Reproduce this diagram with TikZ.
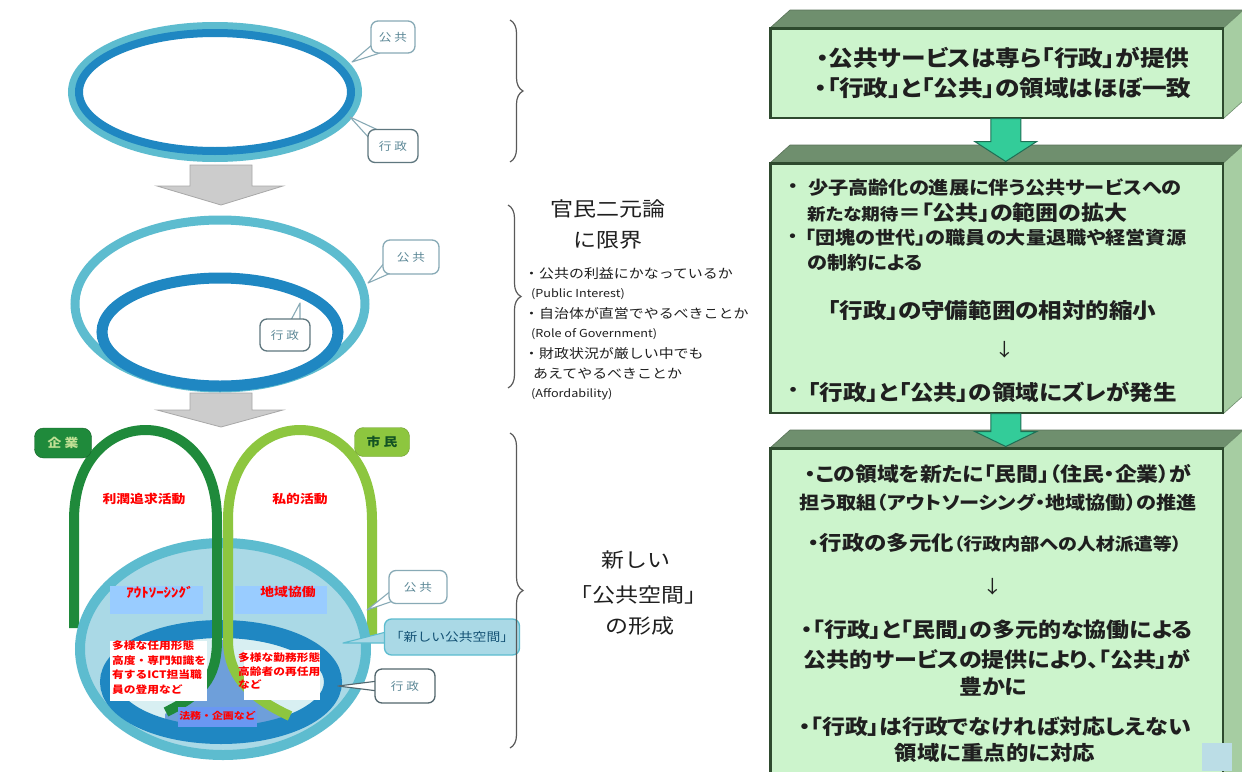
\documentclass[tikz,border=0pt]{standalone}
\usepackage{fontspec}
\newfontfamily\jpf[FakeStretch=1.15]{Noto Sans CJK JP}
\newfontfamily\jpp[FakeStretch=1.12, RawFeature=+palt]{Noto Sans CJK JP}
\usetikzlibrary{decorations.pathreplacing,calc}
\definecolor{ringL}{HTML}{5DBCCF}
\definecolor{ringD}{HTML}{1F87C2}
\definecolor{dgreen}{HTML}{1F8A3B}
\definecolor{lgreen}{HTML}{8DC63F}
\definecolor{fillB}{HTML}{AAD9E6}
\definecolor{fillIn}{HTML}{D8EFF2}
\definecolor{triB}{HTML}{6E9FDA}
\definecolor{lblBlue}{HTML}{99CCFF}
\definecolor{hoBlue}{HTML}{6A97F2}
\definecolor{callBorder}{HTML}{88AAB6}
\definecolor{callText}{HTML}{5B8796}
\definecolor{boxFront}{HTML}{CCF4CC}
\definecolor{boxTop}{HTML}{6F8F6E}
\definecolor{boxSide}{HTML}{A6CDA2}
\definecolor{boxLine}{HTML}{2E4A2E}
\definecolor{gArrow}{HTML}{33CC99}
\definecolor{gArrowLine}{HTML}{1F6F55}
\definecolor{grayFill}{HTML}{CCCCCC}
\definecolor{grayLine}{HTML}{A8A8A8}
\definecolor{txtDark}{HTML}{1F1F1F}
\definecolor{sqBlue}{HTML}{BBDDE6}
\newcommand\fsz[2]{\fontsize{#1}{#2}\selectfont}
\begin{document}
\begin{tikzpicture}[x=1pt,y=-1pt,
  callout/.style={draw=callBorder, fill=white, rounded corners=7pt, line width=1.3pt,
    font=\jpf\fsz{11}{12}, text=callText, inner sep=0pt},
  tail/.style={draw=callBorder, fill=white, line width=1.1pt, line join=round},
  front/.style={draw=boxLine, fill=boxFront, line width=1.5pt, inner sep=0pt, anchor=north west},
  topface/.style={fill=boxTop, draw=boxTop!80!black, line width=0.6pt},
  sideface/.style={fill=boxSide, draw=boxTop, line width=0.6pt},
  btxt/.style={font=\jpp\bfseries\fsz{20.5}{21}, text=black!88, inner sep=0pt},
  redtxt/.style={font=\jpf\bfseries\fsz{12}{14}, text=red, inner sep=0pt},
  midtxt/.style={font=\jpf\fsz{13}{15}, text=txtDark, inner sep=0pt, anchor=west},
  lattxt/.style={font=\jpf\fsz{11}{13}, text=txtDark, inner sep=0pt, anchor=west},
  bigtxt/.style={font=\jpf\fsz{20}{22}, text=txtDark, inner sep=0pt},
  bracestyle/.style={decorate, decoration={brace, amplitude=13pt}, line width=1.2pt, draw=black!65},
  grayarrow/.style={fill=grayFill, draw=grayLine, line width=0.8pt},
  greenarrow/.style={fill=gArrow, draw=gArrowLine, line width=1pt}
]
\fill[white] (0,0) rectangle (1242,771);
\useasboundingbox (0,0) rectangle (1242,771);

% ================= top ellipse =================
\draw[line width=14, color=ringL] (215,92) ellipse [x radius=140, y radius=63];
\draw[line width=8, color=ringD] (215,92) ellipse [x radius=136, y radius=59];
\coordinate (t1) at (352,62);
\coordinate (t2) at (350,117);
\fill[tail] (373,44) -- (t1) -- (380,53);
\node[callout, minimum width=44, minimum height=32] (k1) at (393,37) {公 共};
\fill[tail] (370,139) -- (t2) -- (378,130);
\node[callout, minimum width=50, minimum height=33, draw=callBorder!70!black] (g1) at (393,146) {行 政};

\draw[grayarrow] (190,165) -- (252,165) -- (252,186) -- (283,186) -- (221,205) -- (157,186) -- (190,186) -- cycle;

% ================= middle ellipses =================
\draw[line width=9, color=ringL] (220,304) ellipse [x radius=145, y radius=84];
\draw[line width=11, color=ringD] (220,332) ellipse [x radius=118, y radius=54];
\coordinate (t3) at (368,283);
\coordinate (t4) at (300,303);
\fill[tail] (385,262) -- (t3) -- (393,272);
\node[callout, minimum width=56, minimum height=34] (k2) at (411,257) {公 共};
\fill[tail] (291,320) -- (t4) -- (300,320);
\node[callout, minimum width=50, minimum height=32, draw=callBorder!70!black] (g2) at (285,335) {行 政};

\draw[grayarrow] (190,393) -- (252,393) -- (252,410) -- (283,410) -- (221,427) -- (157,410) -- (190,410) -- cycle;

% ================= bottom diagram =================
\draw[dgreen, line width=10] (74,628) -- (74,520) .. controls (74,400) and (217,400) .. (217,520) -- (217,640);
\draw[lgreen, line width=10] (228,640) -- (228,520) .. controls (228,400) and (372,400) .. (372,520) -- (372,640);
\fill[fillB] (223,649) ellipse [x radius=146, y radius=109];
\draw[line width=10, color=ringL] (223,649) ellipse [x radius=143, y radius=106];
\fill[fillIn] (221,682) ellipse [x radius=112, y radius=53];
\fill[triB] (217,640) .. controls (217,680) and (200,695) .. (165,714) -- (165,730) -- (292,730) -- (292,718) .. controls (256,700) and (228,680) .. (228,640) -- cycle;
\draw[line width=18, color=ringD] (221,682) ellipse [x radius=112, y radius=53];
\draw[dgreen, line width=10] (217,530) -- (217,640) .. controls (217,680) and (200,695) .. (166,712);
\draw[lgreen, line width=10] (228,530) -- (228,640) .. controls (228,680) and (256,700) .. (290,716);

\node[fill=dgreen, draw=dgreen!70!black, rounded corners=9pt, minimum width=57, minimum height=30, inner sep=0pt,
  font=\jpf\bfseries\fsz{12}{13}, text=lgreen!55!white] (kigyo) at (63,443) {企 業};
\node[fill=lgreen, draw=lgreen!80!black, rounded corners=9pt, minimum width=55, minimum height=29, inner sep=0pt,
  font=\jpf\bfseries\fsz{12}{13}, text=dgreen!60!black] (shimin) at (382,442) {市 民};

\node[fill=white, minimum width=112, minimum height=32, inner sep=0pt] (rj) at (144,499) {};
\node[redtxt] (rjt) at (144,499) {利潤追求活動};
\node[fill=white, minimum width=112, minimum height=32, inner sep=0pt] (sk) at (296,499) {};
\node[redtxt] (skt) at (300,499) {私的活動};
\node[fill=lblBlue, minimum width=93, minimum height=28, inner sep=0pt] (ao) at (156,600) {};
\node[redtxt, font=\jpf\bfseries\fsz{13}{14}] (aot) at (160,592) {ｱｳﾄｿｰｼﾝｸﾞ};
\node[fill=lblBlue, minimum width=92, minimum height=28, inner sep=0pt] (ck) at (281,600) {};
\node[redtxt] (ckt) at (288,592) {地域協働};
\node[fill=white, minimum width=97, minimum height=60, inner sep=0pt] (wl) at (158.5,671) {};
\node[redtxt, font=\jpf\bfseries\fsz{10.2}{14.5}, align=left, anchor=north west] (wlt) at (112,641)
  {多様な任用形態\\高度・専門知識を\\有するICT担当職\\員の登用など};
\node[fill=white, minimum width=76, minimum height=50, inner sep=0pt] (wr) at (282,675) {};
\node[redtxt, font=\jpf\bfseries\fsz{10.2}{13.5}, align=left, anchor=north west] (wrt) at (238,653)
  {多様な勤務形態\\高齢者の再任用\\など};
\node[fill=hoBlue, minimum width=79, minimum height=20, inner sep=0pt] (hm) at (217.5,717) {};
\node[redtxt, font=\jpf\bfseries\fsz{9.5}{11}] (hmt) at (217.5,716) {法務・企画など};

\coordinate (t5) at (367,610);
\coordinate (t6) at (343,643);
\coordinate (t7) at (338,686);
\fill[tail] (392,590) -- (t5) -- (396,600);
\node[callout, minimum width=58, minimum height=33] (k3) at (418,587) {公 共};
\fill[tail, draw=ringL, fill=fillB] (390,631) -- (t6) -- (390,643);
\node[callout, draw=ringL, fill=fillB, text=ringD!60!black, minimum width=135, minimum height=36,
  font=\jpf\fsz{12}{13}] (ns) at (452,637) {「新しい公共空間」};
\fill[tail, draw=callBorder!60!black] (378,681) -- (t7) -- (378,691);
\node[callout, draw=callBorder!60!black, minimum width=60, minimum height=34] (g3) at (405,686) {行 政};

% ================= braces & middle texts =================
\draw[bracestyle] (510,20) -- (510,162);
\draw[bracestyle] (508,205) -- (508,388);
\draw[bracestyle] (510,433) -- (510,748);

\node[bigtxt] (m1) at (608,209) {官民二元論};
\node[bigtxt] (m2) at (608,240) {に限界};
\node[midtxt] (s1) at (524,274) {・公共の利益にかなっているか};
\node[lattxt] (s2) at (531,294) {(Public Interest)};
\node[midtxt] (s3) at (524,314) {・自治体が直営でやるべきことか};
\node[lattxt] (s4) at (531,334) {(Role of Government)};
\node[midtxt] (s5) at (524,354) {・財政状況が厳しい中でも};
\node[midtxt] (s6) at (533,374) {あえてやるべきことか};
\node[lattxt] (s7) at (531,394) {(Affordability)};

\node[bigtxt] (n1) at (636,560) {新しい};
\node[bigtxt] (n2) at (638,595) {「公共空間」};
\node[bigtxt] (n3) at (640,626) {の形成};

% ================= right boxes =================
\node[front, minimum width=452, minimum height=89] (b1) at (770,28) {};
\fill[topface] (b1.north west) -- ([shift={(20,-18)}]b1.north west) -- ([shift={(20,-18)}]b1.north east) -- (b1.north east) -- cycle;
\fill[sideface] (b1.north east) -- ([shift={(20,-18)}]b1.north east) -- ([shift={(20,-18)}]b1.south east) -- (b1.south east) -- cycle;
\draw[boxLine, line width=1.5pt] (b1.north west) rectangle (b1.south east);
\node[btxt, font=\jpp\bfseries\fsz{22}{23}] (b1a) at (1003,58) {・公共サービスは専ら「行政」が提供};
\node[btxt, font=\jpp\bfseries\fsz{22}{23}] (b1b) at (1003,88) {・「行政」と「公共」の領域はほぼ一致};

\node[front, minimum width=452, minimum height=249] (b2) at (770,163) {};
\fill[topface] (b2.north west) -- ([shift={(20,-18)}]b2.north west) -- ([shift={(20,-18)}]b2.north east) -- (b2.north east) -- cycle;
\fill[sideface] (b2.north east) -- ([shift={(20,-18)}]b2.north east) -- ([shift={(20,-18)}]b2.south east) -- (b2.south east) -- cycle;
\draw[boxLine, line width=1.5pt] (b2.north west) rectangle (b2.south east);
\node[btxt, anchor=west, font=\jpf\bfseries\fsz{17}{18}] (b2a0) at (783,188) {・};
\node[btxt, anchor=west, font=\jpp\bfseries\fsz{18}{19}] (b2a) at (808,188) {少子高齢化の進展に伴う公共サービスへの};
\node[btxt, anchor=west] (b2b) at (807,213) {{\fsz{16.5}{18}新たな期待}{\fsz{20.5}{21}＝「公共」の範囲の拡大}};
\node[btxt, anchor=west, font=\jpf\bfseries\fsz{16.5}{18}] (b2c0) at (783,238) {・};
\node[btxt, anchor=west, font=\jpp\bfseries\fsz{18}{19}] (b2c) at (805,238) {「団塊の世代」の職員の大量退職や経営資源};
\node[btxt, anchor=west, font=\jpp\bfseries\fsz{18}{19}] (b2d) at (807,263) {の制約による};
\node[btxt, font=\jpp\bfseries\fsz{21}{22}] (b2e) at (992,310) {「行政」の守備範囲の相対的縮小};
\node[btxt, font=\jpf\fsz{18}{20}] (b2f) at (1005,350) {↓};
\node[btxt, anchor=west, font=\jpf\bfseries\fsz{17.5}{18}] (b2g0) at (783,392) {・};
\node[btxt, anchor=west, font=\jpp\bfseries\fsz{21}{22}] (b2g) at (808,392) {「行政」と「公共」の領域にズレが発生};

\node[front, minimum width=452, minimum height=340] (b3) at (770,448) {};
\fill[topface] (b3.north west) -- ([shift={(20,-18)}]b3.north west) -- ([shift={(20,-18)}]b3.north east) -- (b3.north east) -- cycle;
\fill[sideface] (b3.north east) -- ([shift={(20,-18)}]b3.north east) -- ([shift={(20,-18)}]b3.south east) -- (b3.south east) -- cycle;
\draw[boxLine, line width=1.5pt] (b3.north west) rectangle (b3.south east);
\node[btxt, font=\jpp\bfseries\fsz{19.5}{20}] (b3a) at (998,474) {・この領域を新たに「民間」（住民・企業）が};
\node[btxt, font=\jpp\bfseries\fsz{18}{19}] (b3b) at (998,503) {担う取組（アウトソーシング・地域協働）の推進};
\node[btxt] (b3c) at (995,543) {{\fsz{20}{21}・行政の多元化}{\fsz{17}{18}（行政内部への人材派遣等）}};
\node[btxt, font=\jpf\fsz{18}{20}] (b3d) at (993,587) {↓};
\node[btxt] (b3e) at (997,630) {・「行政」と「民間」の多元的な協働による};
\node[btxt] (b3f) at (997,660) {公共的サービスの提供により、「公共」が};
\node[btxt] (b3g) at (993,687) {豊かに};
\node[btxt] (b3h) at (995,727) {・「行政」は行政でなければ対応しえない};
\node[btxt, font=\jpp\bfseries\fsz{20}{21}] (b3i) at (995,753) {領域に重点的に対応};
\fill[sqBlue] (1202,743) rectangle (1232,771);

% green arrows between boxes
\draw[greenarrow] ($(b1.south)+(-6,0)$) -- ++(30,0) -- ++(0,23) -- ++(16,0) -- ($(b1.south)+(9,43)$) -- ($(b1.south)+(-22,23)$) -- ++(16,0) -- cycle;
\draw[greenarrow] ($(b2.south)+(-6,0)$) -- ++(30,0) -- ++(0,18) -- ++(16,0) -- ($(b2.south)+(9,33)$) -- ($(b2.south)+(-22,18)$) -- ++(16,0) -- cycle;
\end{tikzpicture}
\end{document}
